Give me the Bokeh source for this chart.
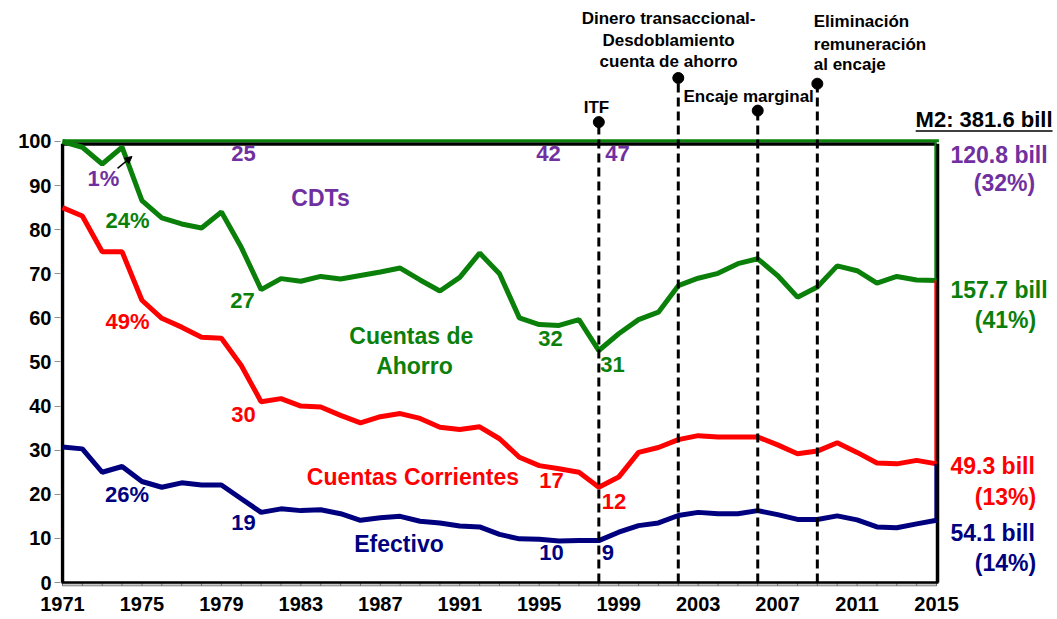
from bokeh.plotting import figure
from bokeh.models import Range1d, FixedTicker, Arrow, NormalHead
from bokeh.core.properties import value
from bokeh.embed import file_html
from bokeh.resources import INLINE

# ---------------- data (cumulative shares of M2, %) ----------------
years = list(range(1971, 2016))
efectivo = [30.7, 30.3, 25.0, 26.3, 22.9, 21.6, 22.6, 22.1, 22.1, 19.0,
            15.9, 16.7, 16.3, 16.5, 15.6, 14.1, 14.7, 15.0, 13.9, 13.5,
            12.8, 12.6, 10.9, 9.9, 9.8, 9.4, 9.5, 9.5, 11.4, 12.9,
            13.5, 15.2, 15.9, 15.6, 15.6, 16.3, 15.4, 14.3, 14.3, 15.1,
            14.2, 12.6, 12.4, 13.3, 14.1]
corrientes_acum = [85.0, 83.1, 75.0, 75.0, 64.0, 59.9, 57.9, 55.6, 55.4, 49.2,
                   41.0, 41.7, 40.0, 39.8, 37.9, 36.2, 37.6, 38.3, 37.2, 35.2,
                   34.7, 35.3, 32.6, 28.4, 26.5, 25.8, 25.0, 21.6, 23.9, 29.5,
                   30.6, 32.4, 33.3, 33.0, 33.0, 33.0, 31.2, 29.2, 29.8, 31.7,
                   29.5, 27.1, 26.9, 27.7, 26.9]
ahorro_acum = [100.0, 98.7, 94.9, 98.7, 86.6, 82.7, 81.3, 80.4, 84.0, 76.0,
               66.4, 68.9, 68.3, 69.4, 68.8, 69.6, 70.4, 71.3, 68.6, 66.1,
               69.2, 74.7, 70.0, 60.0, 58.5, 58.3, 59.6, 52.6, 56.4, 59.6,
               61.3, 67.3, 69.0, 70.1, 72.3, 73.4, 69.6, 64.7, 67.0, 71.8,
               70.7, 67.9, 69.4, 68.6, 68.5]
total = 100.0

x_ticks = [1971, 1975, 1979, 1983, 1987, 1991, 1995, 1999, 2003, 2007, 2011, 2015]
y_ticks = [0, 10, 20, 30, 40, 50, 60, 70, 80, 90, 100]

event_years = [1998, 2002, 2006, 2009]
event_tops = [104.4, 114.4, 107.0, 113.1]

# ---------------- styles ----------------
PURPLE = "#7030A0"
GREEN = "#0A800A"
RED = "#FF0000"
NAVY = "#00007F"
FONT = value("Liberation Sans")

p = figure(width=1057, height=619,
           x_range=Range1d(1970.9, 2021.09), y_range=Range1d(-0.907, 131.97),
           output_backend="svg", toolbar_location=None,
           min_border_left=60, min_border_right=0, min_border_top=0,
           min_border_bottom=33)
p.outline_line_color = None
p.xgrid.visible = False
p.ygrid.visible = False
p.background_fill_color = "white"
p.border_fill_color = "white"

# axes
p.yaxis.ticker = FixedTicker(ticks=y_ticks)
p.yaxis.axis_line_color = None
p.yaxis.major_tick_out = 6
p.yaxis.major_tick_in = 0
p.yaxis.major_tick_line_color = "#8C8C8C"
p.yaxis.minor_tick_line_color = None
p.yaxis.major_label_standoff = 3
p.yaxis.major_label_text_font = "Liberation Sans"
p.yaxis.major_label_text_font_style = "bold"
p.yaxis.major_label_text_font_size = "20px"
p.yaxis.major_label_text_color = "black"

p.xaxis.ticker = FixedTicker(ticks=x_ticks)
p.xaxis.axis_line_color = None
p.xaxis.major_tick_out = 0
p.xaxis.major_tick_in = 0
p.xaxis.major_tick_line_color = None
p.xaxis.minor_tick_line_color = None
p.xaxis.major_label_standoff = 10
p.xaxis.major_label_text_font = "Liberation Sans"
p.xaxis.major_label_text_font_style = "bold"
p.xaxis.major_label_text_font_size = "20px"
p.xaxis.major_label_text_color = "black"

x0, x1 = years[0], years[-1]

# floor band with yearly ticks
p.quad(left=[x0], right=[x1], bottom=[-0.8], top=[0], fill_color="#C8C8C8",
       line_color="#707070", line_width=1)
p.segment(x0=years, y0=[-0.8] * len(years), x1=years, y1=[0] * len(years),
          line_color="#707070", line_width=1)

# frame
p.segment(x0=[x0, x1 + 0.05, x0], y0=[0, 0, 99.45], x1=[x0, x1 + 0.05, x1], y1=[99.5, 99.5, 99.45],
          line_color="black", line_width=3.5)
p.segment(x0=[x0 - 0.05], y0=[0], x1=[x1 + 0.1], y1=[0], line_color="black", line_width=2.5)
p.segment(x0=[x0], y0=[100.15], x1=[x1 + 0.12], y1=[100.15], line_color=GREEN, line_width=3)

# series lines
p.line(years, ahorro_acum, line_color=GREEN, line_width=5)
p.line(years, corrientes_acum, line_color=RED, line_width=5)
p.line(years, efectivo, line_color=NAVY, line_width=5)

# closing verticals at the last year
xe = x1 - 0.06
p.segment(x0=[xe, xe, xe], y0=[ahorro_acum[-1], corrientes_acum[-1], efectivo[-1]],
          x1=[xe, xe, xe], y1=[total, ahorro_acum[-1], corrientes_acum[-1]],
          line_color=[GREEN, RED, NAVY], line_width=2)

# event lines
p.segment(x0=event_years, y0=[0] * len(event_years), x1=event_years, y1=event_tops,
          line_color="black", line_width=3, line_dash="9 5")
p.scatter(event_years, event_tops, size=11, color="black")


def lbl(texts, xs, ys, color, size, align="center"):
    p.text(x=xs, y=ys, text=texts, text_color=color, text_font=FONT,
           text_font_style="bold", text_font_size=size, text_align=align,
           text_baseline="middle")


# in-plot labels
lbl(["1%", "25", "42", "47"],
    [1973.06, 1980.11, 1995.47, 1998.94],
    [91.6, 97.3, 97.3, 97.3], PURPLE, "22px")
lbl(["CDTs"], [1983.99], [87.1], PURPLE, "23px")
lbl(["24%", "27", "32", "31"],
    [1974.27, 1980.06, 1995.57, 1998.69],
    [82.1, 63.9, 55.4, 49.5], GREEN, "22px")
lbl(["Cuentas  de", "Ahorro"], [1988.72, 1988.72], [55.8, 49.2], GREEN, "23px")
lbl(["49%", "30", "17", "12"],
    [1974.27, 1980.11, 1995.62, 1998.76],
    [59.2, 38.2, 23.1, 18.3], RED, "22px")
lbl(["Cuentas  Corrientes"], [1988.80], [23.9], RED, "23px")
lbl(["26%", "19", "10", "9"],
    [1974.25, 1980.11, 1995.62, 1998.46],
    [20.0, 13.6, 6.7, 6.7], NAVY, "22px")
lbl(["Efectivo"], [1987.94], [8.7], NAVY, "23px")

# arrow for 1%
p.add_layout(Arrow(end=NormalHead(size=7, fill_color="black", line_color="black"),
                   x_start=1973.77, y_start=93.9, x_end=1974.5, y_end=96.6,
                   line_color="black", line_width=1.5))

# right-hand labels
lbl(["M2: 381.6 bill"], [2020.84], [105.0], "black", "22px", "right")
p.segment(x0=[2013.95], y0=[102.4], x1=[2020.84], y1=[102.4], line_color="black", line_width=1.5)
lbl(["120.8 bill"], [2015.7], [96.9], PURPLE, "23px", "left")
lbl(["(32%)"], [2018.42], [90.6], PURPLE, "23px")
lbl(["157.7 bill"], [2015.7], [66.3], GREEN, "23px", "left")
lbl(["(41%)"], [2018.47], [59.6], GREEN, "23px")
lbl(["49.3 bill"], [2015.7], [26.4], RED, "23px", "left")
lbl(["(13%)"], [2018.47], [19.5], RED, "23px")
lbl(["54.1 bill"], [2015.7], [11.2], NAVY, "23px", "left")
lbl(["(14%)"], [2018.47], [4.4], NAVY, "23px")

# event annotations
lbl(["ITF"], [1997.88], [107.7], "black", "17px")
lbl(["Dinero transaccional-", "Desdoblamiento", "cuenta de ahorro"],
    [2001.51, 2001.51, 2001.51], [127.9, 122.9, 118.1], "black", "17px")
lbl(["Encaje marginal"], [2002.26], [110.3], "black", "17px", "left")
lbl(["Eliminación", "remuneración", "al encaje"],
    [2008.82, 2008.82, 2008.82], [127.1, 122.1, 117.5], "black", "17px", "left")

open("out.html", "w").write(file_html(p, INLINE))
